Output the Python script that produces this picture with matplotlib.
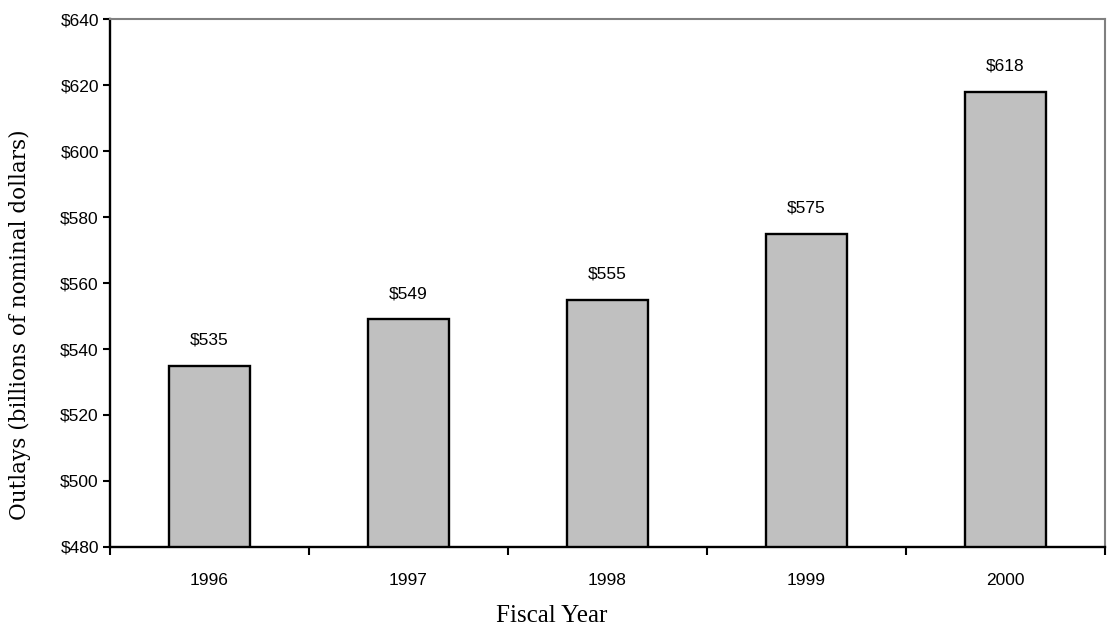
import matplotlib
matplotlib.use("Agg")
import matplotlib.pyplot as plt
import numpy as np

# Outlays by fiscal year (billions of nominal dollars)
years = ["1996", "1997", "1998", "1999", "2000"]
outlays = [535, 549, 555, 575, 618]
y_ticks = [480, 500, 520, 540, 560, 580, 600, 620, 640]

fig = plt.figure(figsize=(11.08, 6.28), dpi=100)
ax = fig.add_axes([0.0993, 0.129, 0.898, 0.8407])

x = np.arange(len(years))
ax.bar(x, outlays, width=0.405, color="#C0C0C0", edgecolor="black",
       linewidth=1.7, zorder=2)

ax.set_xlim(-0.5, len(years) - 0.5)
ax.set_ylim(480, 640)

# value labels above each bar
for xi, val in zip(x, outlays):
    ax.annotate(f"${val}", (xi, val), xytext=(0, 13), textcoords="offset points",
                ha="center", va="bottom", fontsize=12.5, family="Liberation Sans")

# y axis
ax.set_yticks(y_ticks)
ax.set_yticklabels([f"${v}" for v in y_ticks], fontsize=12.5, family="Liberation Sans")
ax.tick_params(axis="y", direction="out", length=5, width=1.5, pad=3)

# x axis: tick marks between categories, labels at the centres
ax.set_xticks(np.arange(-0.5, len(years), 1.0))
ax.set_xticklabels([])
ax.set_xticks(x, minor=True)
ax.set_xticklabels(years, minor=True, fontsize=12.5, family="Liberation Sans")
ax.tick_params(axis="x", which="major", direction="out", length=6, width=1.5)
ax.tick_params(axis="x", which="minor", length=0, pad=19)

for side in ["left", "bottom"]:
    ax.spines[side].set_color("black")
    ax.spines[side].set_linewidth(1.7)
for side in ["top", "right"]:
    ax.spines[side].set_color("#808080")
    ax.spines[side].set_linewidth(1.5)

ax.set_xlabel("Fiscal Year", fontsize=18, family="Liberation Serif")
ax.xaxis.set_label_coords(0.444, -0.131)
ax.xaxis.label.set_va("center")

ax.set_ylabel("Outlays (billions of nominal dollars)", fontsize=15.5, family="DejaVu Serif")
ax.yaxis.set_label_coords(-0.0905, 0.422)
ax.yaxis.label.set_va("center")

fig.savefig("out.png", dpi=100)
